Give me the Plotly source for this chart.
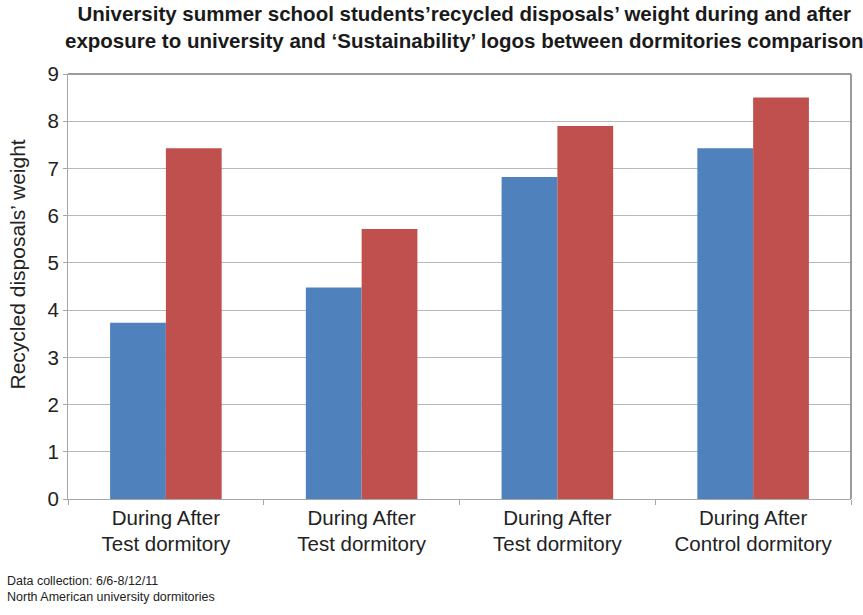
import plotly.graph_objects as go

# Dormitory groups and recycled weights during / after logo exposure
groups = ["Test dormitory", "Test dormitory", "Test dormitory", "Control dormitory"]
during = [3.73, 4.48, 6.82, 7.43]
after = [7.43, 5.72, 7.90, 8.50]
y_ticks = [0, 1, 2, 3, 4, 5, 6, 7, 8, 9]

FONT = "Liberation Sans, Arial, sans-serif"
BLUE = "#4F81BD"
RED = "#C0504D"
TEXT = "#222222"

xpos = list(range(len(groups)))
ticktext = [f"During After<br>{g}" for g in groups]

fig = go.Figure()
fig.add_trace(go.Bar(x=xpos, y=during, name="During", marker=dict(color=BLUE, line_width=0)))
fig.add_trace(go.Bar(x=xpos, y=after, name="After", marker=dict(color=RED, line_width=0)))

fig.update_layout(
    width=863,
    height=615,
    margin=dict(l=68, r=12, t=74, b=116),
    paper_bgcolor="white",
    plot_bgcolor="white",
    barmode="group",
    bargap=0.43,
    bargroupgap=0,
    showlegend=False,
    font=dict(family=FONT, color=TEXT),
)

fig.update_xaxes(
    range=[-0.5, 3.5],
    tickvals=xpos,
    ticktext=ticktext,
    ticks="",
    tickfont=dict(size=20.5, family=FONT, color=TEXT),
    showgrid=False,
    showline=True,
    linecolor="#a6a6a6",
    linewidth=1,
    minor=dict(tick0=-0.5, dtick=1, ticks="outside", ticklen=5, tickcolor="#a6a6a6", showgrid=False),
)

fig.update_yaxes(
    range=[0, 9],
    tickvals=y_ticks,
    ticks="outside",
    ticklen=4,
    tickcolor="#a6a6a6",
    tickfont=dict(size=20.5, family=FONT, color=TEXT),
    showgrid=True,
    gridcolor="#b8b8b8",
    gridwidth=1,
    zeroline=False,
    showline=True,
    linecolor="#a6a6a6",
    linewidth=1,
)

# darker frame on the top and right edges of the plot area
fig.add_shape(type="line", xref="paper", yref="paper", x0=0, x1=1, y0=1, y1=1,
              line=dict(color="#7a7a7a", width=1.5))
fig.add_shape(type="line", xref="paper", yref="paper", x0=1, x1=1, y0=0, y1=1,
              line=dict(color="#7a7a7a", width=1.5))

# vertical y-axis caption, set a little above the plot's middle
fig.add_annotation(
    text="Recycled disposals’ weight",
    xref="paper", yref="paper", x=-0.065, y=0.552, xanchor="center", yanchor="middle",
    textangle=-90, showarrow=False,
    font=dict(size=21, family=FONT, color=TEXT),
)

# two-line bold heading
fig.add_annotation(
    text="<b>University summer school students’recycled disposals’ weight during and after<br>"
         "exposure to university and ‘Sustainability’ logos between dormitories comparison</b>",
    xref="paper", yref="paper", x=0.506, y=1.174, xanchor="center", yanchor="top",
    align="center", showarrow=False,
    font=dict(size=20.5, family=FONT, color="#1a1a1a"),
)

# data-collection footnote
fig.add_annotation(
    text="Data collection: 6/6-8/12/11<br>North American university dormitories",
    xref="paper", yref="paper", x=-0.0805, y=-0.172, xanchor="left", yanchor="top",
    align="left", showarrow=False,
    font=dict(size=12.5, family=FONT, color=TEXT),
)

fig.write_html("out.html")
